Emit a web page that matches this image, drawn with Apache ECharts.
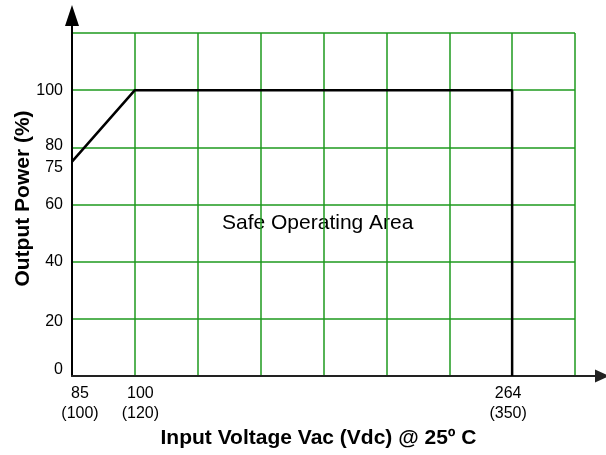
<!DOCTYPE html>
<html>
<head>
<meta charset="utf-8">
<script src="https://cdn.jsdelivr.net/npm/echarts@6/dist/echarts.min.js"></script>
<style>
html,body{margin:0;padding:0;background:#fff;}
#c{width:606px;height:455px;}
</style>
</head>
<body>
<div id="c"></div>
<script>
// x positions are grid-column indices; labels give the voltage at each column
const xTickTop = ['85', '100', '', '', '', '', '', '264', ''];
const xTickBottom = ['(100)', '(120)', '', '', '', '', '', '(350)', ''];
const yTickValues = [0, 20, 40, 60, 80, 100];
const yExtraLabel = 75;
const curveX = [0, 1, 7, 7];
const curveY = [75, 100, 100, 0];
const xTitle = 'Input Voltage Vac (Vdc) @ 25º C';
const yTitle = 'Output Power (%)';
const areaText = 'Safe Operating Area';

const FONT = "'Liberation Sans', Arial, sans-serif";
const GREEN = '#1e9a1e';
const yArrow = 'path://M7,0 L14,21 L8,21 L8,28 L6,28 L6,21 L0,21 Z';
const xArrow = 'path://M6.5,0 L13,14 L7.5,14 L7.5,34 L5.5,34 L5.5,14 L0,14 Z';

// small label nudges to mimic the reference placement
const xNudge = {0: 'r8', 1: 'r5', 7: 'l4'};
const yNudge = {0: 'u6', 20: 'd3', 80: 'u2'};
const lbl = {fontFamily: FONT, fontSize: 16, color: '#000', lineHeight: 20};

const chart = echarts.init(document.getElementById('c'), null, {renderer: 'canvas'});
chart.setOption({
  animation: false,
  backgroundColor: '#fff',
  grid: {left: 72, right: 31, top: 33, bottom: 79, containLabel: false, outerBoundsMode: 'none'},
  xAxis: {
    type: 'value', min: 0, max: xTickTop.length - 1, interval: 1,
    name: xTitle, nameLocation: 'middle', nameGap: 52, nameMoveOverlap: false,
    nameTextStyle: {fontFamily: FONT, fontSize: 21, fontWeight: 'bold', color: '#000', padding: [0, 10, 0, 0]},
    axisLine: {show: true, lineStyle: {color: '#222', width: 2},
      symbol: ['none', xArrow], symbolSize: [13, 34], symbolOffset: [0, 17]},
    axisTick: {show: false},
    axisLabel: {fontFamily: FONT, fontSize: 16, color: '#000', lineHeight: 20, margin: 8,
      formatter: v => {
        const i = Math.round(v);
        if (!xTickTop[i]) return '';
        const k = xNudge[i] || 'n';
        return '{' + k + '|' + xTickTop[i] + '}\n{' + k + '|' + xTickBottom[i] + '}';
      },
      rich: {
        n: lbl,
        r8: Object.assign({}, lbl, {padding: [0, 0, 0, 16]}),
        r5: Object.assign({}, lbl, {padding: [0, 0, 0, 11]}),
        l4: Object.assign({}, lbl, {padding: [0, 8, 0, 0]})
      }},
    splitLine: {show: true, lineStyle: {color: GREEN, width: 1.5}}
  },
  yAxis: [{
    type: 'value', min: 0, max: 120, interval: 20,
    name: yTitle, nameLocation: 'middle', nameGap: 38, nameMoveOverlap: false,
    nameTextStyle: {fontFamily: FONT, fontSize: 21, fontWeight: 'bold', color: '#000', padding: [0, 0, 0, 12]},
    axisLine: {show: true, lineStyle: {color: '#000', width: 2},
      symbol: ['none', yArrow], symbolSize: [14, 28], symbolOffset: [0, 14]},
    axisTick: {show: false},
    axisLabel: {fontFamily: FONT, fontSize: 16, color: '#000', margin: 9,
      formatter: v => {
        if (yTickValues.indexOf(v) < 0) return '';
        return '{' + (yNudge[v] || 'n') + '|' + v + '}';
      },
      rich: {
        n: {fontFamily: FONT, fontSize: 16, color: '#000'},
        u6: {fontFamily: FONT, fontSize: 16, color: '#000', padding: [0, 0, 12, 0]},
        u2: {fontFamily: FONT, fontSize: 16, color: '#000', padding: [0, 0, 4, 0]},
        d3: {fontFamily: FONT, fontSize: 16, color: '#000', padding: [6, 0, 0, 0]}
      }},
    splitLine: {show: true, lineStyle: {color: GREEN, width: 1.5}}
  }, {
    type: 'value', min: 0, max: 120, interval: 5, position: 'left', offset: 0,
    axisLine: {show: false}, axisTick: {show: false}, splitLine: {show: false},
    axisLabel: {fontFamily: FONT, fontSize: 16, color: '#000', margin: 9,
      formatter: v => v === yExtraLabel ? '{d|' + v + '}' : '',
      rich: {d: {fontFamily: FONT, fontSize: 16, color: '#000', padding: [11, 0, 0, 0]}}}
  }],
  graphic: [{
    type: 'text', left: 222, top: 213, silent: true,
    style: {text: areaText, font: "21px 'Liberation Sans', Arial, sans-serif", fill: '#000'}
  }],
  series: [{
    type: 'line', yAxisIndex: 0,
    data: curveX.map((x, i) => [x, curveY[i]]),
    showSymbol: false, symbol: 'none',
    lineStyle: {color: '#000', width: 2.5},
    z: 5
  }]
});
</script>
</body>
</html>
